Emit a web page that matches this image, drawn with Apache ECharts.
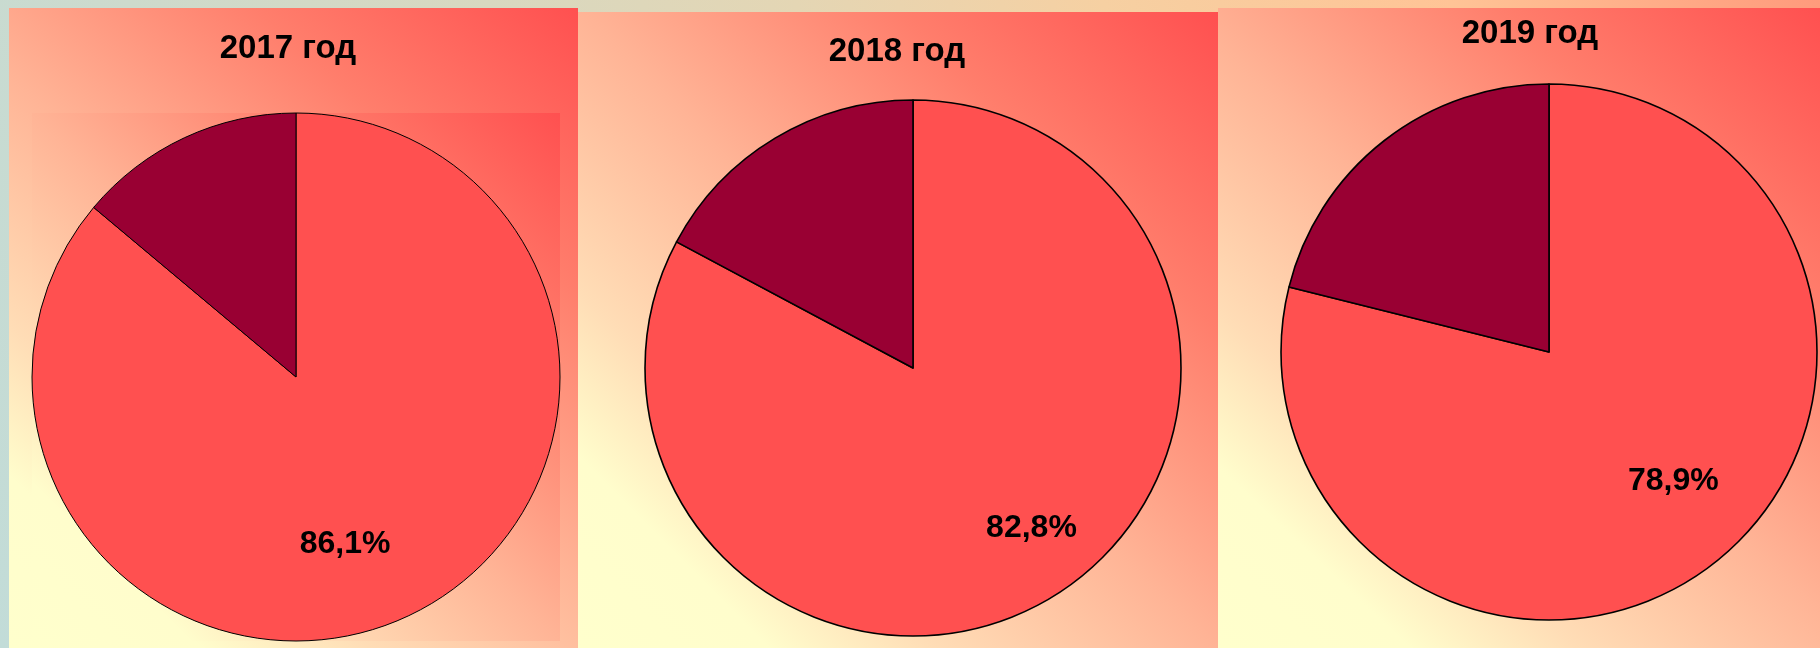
<!DOCTYPE html>
<html>
<head>
<meta charset="utf-8">
<script src="https://cdn.jsdelivr.net/npm/echarts@6/dist/echarts.min.js"></script>
<style>
    html, body { margin: 0; padding: 0; }
    #chart { width: 1820px; height: 648px; }
</style>
</head>
<body>
<div id="chart"></div>
<script>
// данные по годам
var years = ["2017 год", "2018 год", "2019 год"];
var mainShare = [86.1, 82.8, 78.9];
var restShare = [13.9, 17.2, 21.1];

var colorMain = "#FF5050";
var colorRest = "#990033";

// раскладка панелей
var panels = [
    { x: 9, y: 8, w: 569, h: 640 },
    { x: 578, y: 12, w: 640, h: 636 },
    { x: 1218, y: 8, w: 602, h: 640 }
];
var pieCenters = [[296, 377], [913, 368], [1549, 352]];
var pieRadius = [264, 268, 268];
var borderWidths = [1, 1.6, 1.6];
var titlePos = [[288, 32], [897, 35], [1530, 17]];
var labelShift = [[-8, 45], [48, 43], [40, 21]];

function panelGradient() {
    return {
        type: "linear", x: 1, y: 0, x2: 0, y2: 1,
        colorStops: [
            { offset: 0, color: "#FF5050" },
            { offset: 0.25, color: "#FF7E6C" },
            { offset: 0.5, color: "#FFB496" },
            { offset: 0.72, color: "#FFDDB6" },
            { offset: 0.85, color: "#FFFDCC" },
            { offset: 1, color: "#FFFFCC" }
        ]
    };
}

var chart = echarts.init(document.getElementById("chart"));

var graphics = [
    {
        type: "rect", z: -10, silent: true,
        shape: { x: 0, y: 0, width: 1820, height: 648 },
        style: {
            fill: {
                type: "linear", x: 0, y: 1, x2: 1, y2: 0,
                colorStops: [
                    { offset: 0, color: "#C2DCD8" },
                    { offset: 0.35, color: "#D8D8C0" },
                    { offset: 0.5, color: "#E4D6B4" },
                    { offset: 0.65, color: "#F6D0A2" },
                    { offset: 0.82, color: "#FFC496" },
                    { offset: 1, color: "#FF9A7C" }
                ]
            }
        }
    }
];
panels.forEach(function(p) {
    graphics.push({
        type: "rect", z: -9, silent: true,
        shape: { x: p.x, y: p.y, width: p.w, height: p.h },
        style: { fill: panelGradient() }
    });
});
// внутренняя область первой диаграммы
graphics.push({
    type: "rect", z: -8, silent: true,
    shape: { x: 32, y: 113, width: 528, height: 528 },
    style: { fill: panelGradient() }
});

var titles = years.map(function(t, i) {
    return {
        text: t,
        left: titlePos[i][0],
        top: titlePos[i][1],
        textAlign: "center",
        padding: 0,
        textStyle: {
            fontFamily: "Liberation Sans",
            fontWeight: "bold",
            fontSize: 33,
            color: "#000"
        }
    };
});

var series = years.map(function(t, i) {
    return {
        type: "pie",
        name: t,
        center: pieCenters[i],
        radius: pieRadius[i],
        startAngle: 90,
        clockwise: true,
        avoidLabelOverlap: false,
        silent: true,
        emphasis: { disabled: true },
        itemStyle: { borderColor: "#000", borderWidth: borderWidths[i] },
        label: {
            show: true,
            position: "inside",
            fontFamily: "Liberation Sans",
            fontWeight: "bold",
            fontSize: 32,
            color: "#000",
            formatter: function(p) {
                return p.value.toFixed(1).replace(".", ",") + "%";
            }
        },
        labelLayout: { dx: labelShift[i][0], dy: labelShift[i][1] },
        labelLine: { show: false },
        data: [
            { name: "main", value: mainShare[i], itemStyle: { color: colorMain } },
            { name: "rest", value: restShare[i], itemStyle: { color: colorRest }, label: { show: false } }
        ]
    };
});

chart.setOption({
    animation: false,
    graphic: graphics,
    title: titles,
    series: series
});
</script>
</body>
</html>
